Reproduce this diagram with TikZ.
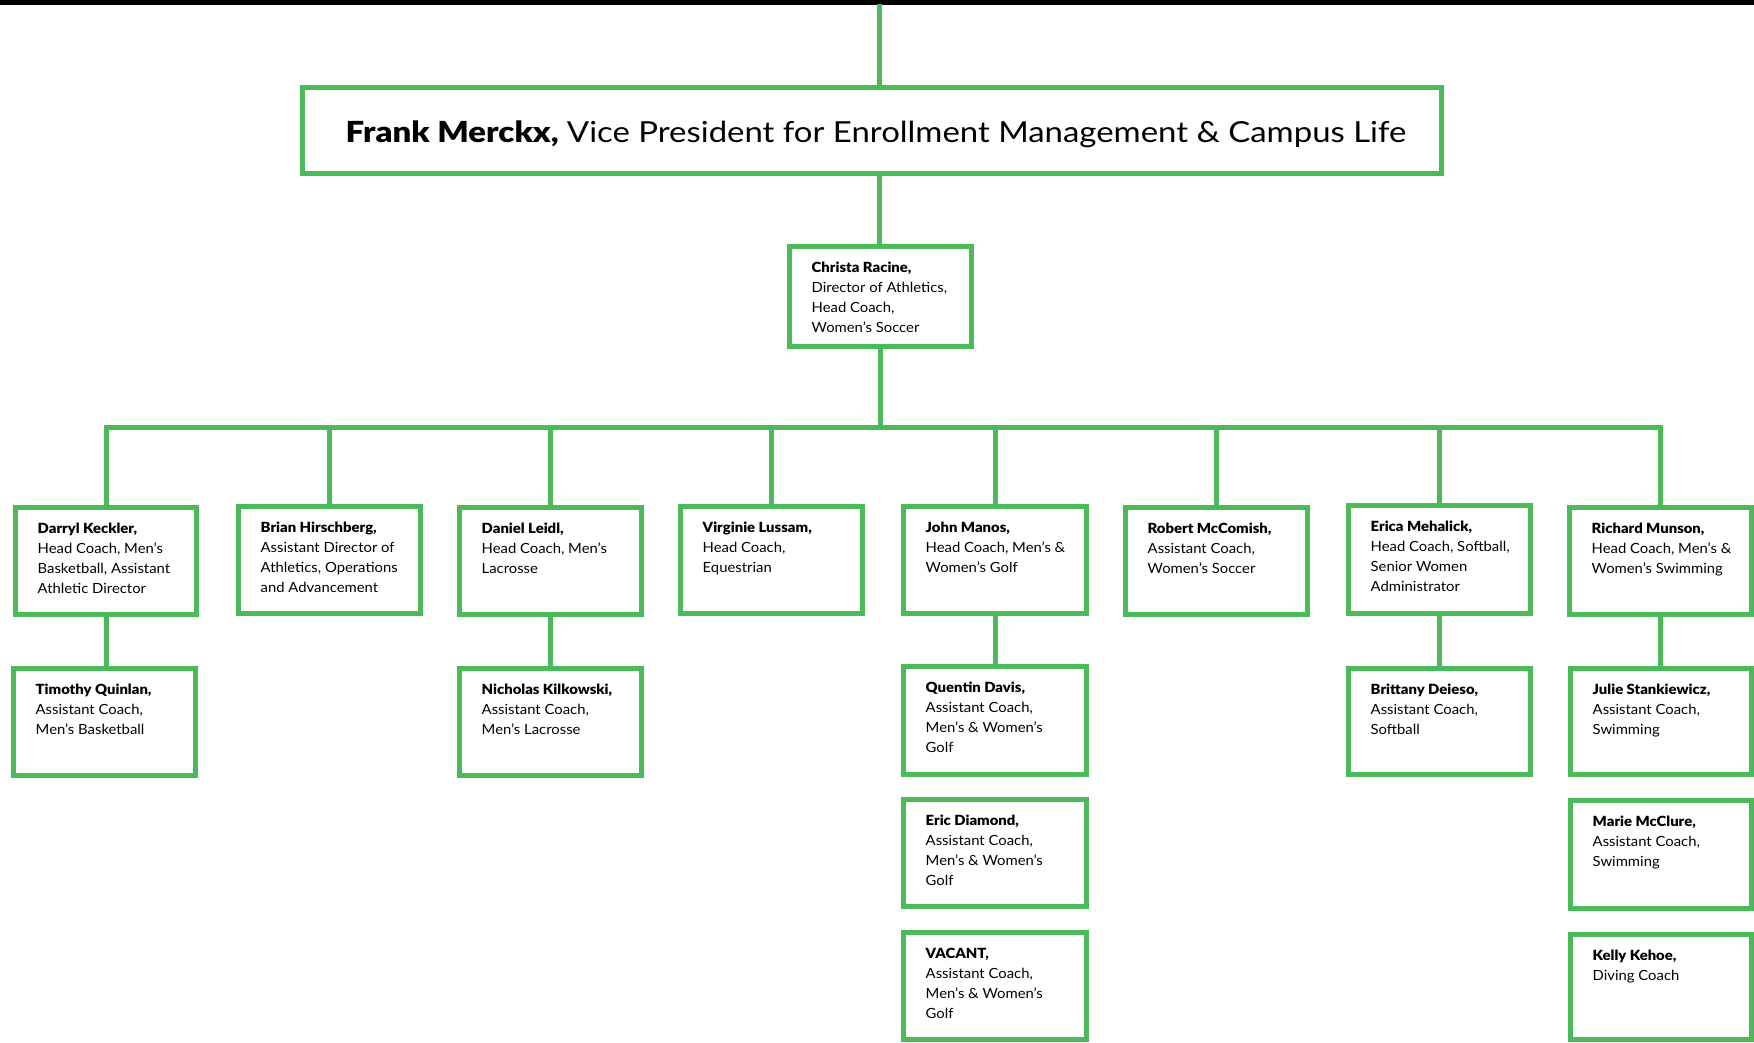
\documentclass[tikz,border=0pt]{standalone}
\usepackage{fontspec}
\setmainfont{Lato}[FakeStretch=1.06, BoldFont={Lato Black}]
\newfontfamily\titlefont{Lato}[FakeStretch=1.135, BoldFont={Lato Black}]
\definecolor{grn}{RGB}{74,185,88}
\newcommand\mybox[5]{\node[box, minimum width={#4-#2-5}, minimum height={#5-#3-5}] (#1) at ({(#2+#4)/2},{(#3+#5)/2}) {};}
\newcommand\person[3]{\node[txt] (#1-t) at ([xshift=24.5pt,yshift=-17.5pt]#1.north west) {\rule{0pt}{11pt}\textbf{#2}\\#3};}
\begin{document}
\begin{tikzpicture}[x=1pt,y=-1pt,
  box/.style={draw=grn, line width=5pt, rectangle, inner sep=0pt, fill=white},
  txt/.style={anchor=north west, inner sep=0pt, align=left, font=\fontsize{14}{20}\selectfont},
  conn/.style={draw=grn, line width=5pt}]
\useasboundingbox (0,0) rectangle (1754,1042);
\fill[black] (0,0) rectangle (1754,5);
% boxes
\mybox{frank}{300}{85}{1444}{176}
\mybox{christa}{787}{244}{974}{349}
\mybox{darryl}{13}{505}{199}{617}
\mybox{brian}{236}{504}{423}{616}
\mybox{daniel}{457}{505}{644}{617}
\mybox{virginie}{678}{504}{865}{616}
\mybox{john}{901}{504}{1089}{616}
\mybox{robert}{1123}{505}{1310}{617}
\mybox{erica}{1346}{503}{1533}{616}
\mybox{richard}{1567}{505}{1754}{617}
\mybox{timothy}{11}{666}{198}{778}
\mybox{nicholas}{457}{666}{644}{778}
\mybox{quentin}{901}{664}{1089}{777}
\mybox{eric}{901}{797}{1089}{909}
\mybox{vacant}{901}{930}{1089}{1042}
\mybox{brittany}{1346}{666}{1533}{777}
\mybox{julie}{1568}{666}{1754}{777}
\mybox{marie}{1568}{798}{1754}{911}
\mybox{kelly}{1568}{932}{1754}{1042}
% title
\node[anchor=base, inner sep=0pt, font=\titlefont\fontsize{29}{29}\selectfont] (frank-t) at (876,142)
  {\textbf{Frank Merckx,} Vice President for Enrollment Management \& Campus Life};
% texts
\person{christa}{Christa Racine,}{Director of Athletics,\\Head Coach,\\Women’s Soccer}
\person{darryl}{Darryl Keckler,}{Head Coach, Men’s\\Basketball, Assistant\\Athletic Director}
\person{brian}{Brian Hirschberg,}{Assistant Director of\\Athletics, Operations\\and Advancement}
\person{daniel}{Daniel Leidl,}{Head Coach, Men’s\\Lacrosse}
\person{virginie}{Virginie Lussam,}{Head Coach,\\Equestrian}
\person{john}{John Manos,}{Head Coach, Men’s \&\\Women’s Golf}
\person{robert}{Robert McComish,}{Assistant Coach,\\Women’s Soccer}
\person{erica}{Erica Mehalick,}{Head Coach, Softball,\\Senior Women\\Administrator}
\person{richard}{Richard Munson,}{Head Coach, Men’s \&\\Women’s Swimming}
\person{timothy}{Timothy Quinlan,}{Assistant Coach,\\Men’s Basketball}
\person{nicholas}{Nicholas Kilkowski,}{Assistant Coach,\\Men’s Lacrosse}
\person{quentin}{Quentin Davis,}{Assistant Coach,\\Men’s \& Women’s\\Golf}
\person{eric}{Eric Diamond,}{Assistant Coach,\\Men’s \& Women’s\\Golf}
\person{vacant}{VACANT,}{Assistant Coach,\\Men’s \& Women’s\\Golf}
\person{brittany}{Brittany Deieso,}{Assistant Coach,\\Softball}
\person{julie}{Julie Stankiewicz,}{Assistant Coach,\\Swimming}
\person{marie}{Marie McClure,}{Assistant Coach,\\Swimming}
\person{kelly}{Kelly Kehoe,}{Diving Coach}
% connectors
\coordinate (topbar) at (879,4);
\coordinate (bus) at (880,427);
\draw[conn] (topbar) -- (topbar |- frank.north);
\draw[conn] (topbar |- frank.south) -- (topbar |- christa.north);
\draw[conn] (christa.south) -- (christa.south |- bus);
\draw[conn, line cap=rect] (darryl.north |- bus) -- (richard.north |- bus);
\foreach \n in {darryl,brian,daniel,virginie,john,robert,erica,richard}
  \draw[conn] (\n.north |- bus) -- (\n.north);
\draw[conn] (darryl.south) -- (timothy.north -| darryl.south);
\draw[conn] (daniel.south) -- (nicholas.north);
\draw[conn] (john.south) -- (quentin.north);
\draw[conn] (erica.south) -- (brittany.north);
\draw[conn] (richard.south) -- (julie.north -| richard.south);
\end{tikzpicture}
\end{document}
